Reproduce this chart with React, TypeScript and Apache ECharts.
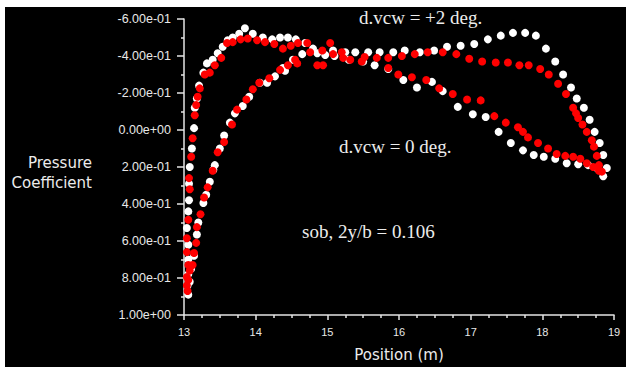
import { useEffect, useRef } from 'react';
import * as echarts from 'echarts';

// Pressure coefficient distribution, section 2y/b = 0.106
const X_MIN = 13;
const X_MAX = 19;
const X_STEP = 1;
const Y_MIN = -0.6;
const Y_MAX = 1.0;
const Y_STEP = 0.2;

const yTickLabels = [
  '-6.00e-01', '-4.00e-01', '-2.00e-01', '0.00e+00', '2.00e-01',
  '4.00e-01', '6.00e-01', '8.00e-01', '1.00e+00',
];
const xTickLabels = ['13', '14', '15', '16', '17', '18', '19'];

// d.vcw = +2 deg. (white)
const whiteUpper: [number, number][] = [
  [13.06, 0.89], [13.05, 0.84], [13.06, 0.78], [13.06, 0.7], [13.06, 0.62], [13.04, 0.53],
  [13.06, 0.44], [13.07, 0.38], [13.07, 0.29], [13.08, 0.2], [13.11, 0.1], [13.14, -0.01],
  [13.15, -0.12], [13.18, -0.17], [13.21, -0.24], [13.27, -0.31], [13.32, -0.36], [13.4, -0.38],
  [13.47, -0.415], [13.54, -0.45], [13.61, -0.485], [13.68, -0.5], [13.77, -0.52], [13.85, -0.55],
  [13.96, -0.52], [14.1, -0.5], [14.23, -0.49], [14.34, -0.5], [14.45, -0.5], [14.56, -0.49],
  [14.69, -0.47], [14.8, -0.44], [14.86, -0.415], [14.97, -0.405], [15.08, -0.43], [15.25, -0.42],
  [15.39, -0.42], [15.57, -0.42], [15.73, -0.42], [15.92, -0.42], [16.08, -0.43], [16.29, -0.42],
  [16.49, -0.43], [16.67, -0.45], [16.86, -0.455], [17.05, -0.465], [17.24, -0.49], [17.42, -0.51],
  [17.59, -0.525], [17.76, -0.525], [17.91, -0.51], [18.05, -0.44], [18.18, -0.37], [18.29, -0.3],
  [18.4, -0.23], [18.48, -0.17], [18.58, -0.12], [18.66, -0.055], [18.73, 0.01], [18.8, 0.07],
  [18.85, 0.135], [18.9, 0.205], [18.85, 0.25],
];
const whiteLower: [number, number][] = [
  [13.08, 0.82], [13.1, 0.75], [13.14, 0.68], [13.18, 0.565], [13.2, 0.5], [13.27, 0.395],
  [13.31, 0.35], [13.36, 0.28], [13.41, 0.215], [13.43, 0.19], [13.5, 0.1], [13.56, 0.03],
  [13.64, -0.04], [13.71, -0.09], [13.82, -0.13], [13.91, -0.18], [14.06, -0.255], [14.16, -0.255],
  [14.27, -0.29], [14.38, -0.335], [14.41, -0.32], [14.52, -0.38], [14.65, -0.41], [15.1, -0.4],
  [15.3, -0.38], [15.5, -0.37], [15.66, -0.35], [15.85, -0.33], [16.06, -0.27], [16.25, -0.23],
  [16.46, -0.26], [16.61, -0.21], [16.82, -0.125], [17.03, -0.085], [17.21, -0.07], [17.39, 0.01],
  [17.56, 0.07], [17.73, 0.11], [17.88, 0.135], [18.02, 0.145], [18.18, 0.155], [18.34, 0.18],
  [18.5, 0.185], [18.64, 0.19], [18.76, 0.205],
];

// d.vcw = 0 deg. (red)
const redUpper: [number, number][] = [
  [13.04, 0.84], [13.04, 0.795], [13.06, 0.73], [13.04, 0.66], [13.04, 0.585], [13.06, 0.485],
  [13.08, 0.32], [13.07, 0.26], [13.1, 0.145], [13.12, 0.045], [13.15, -0.08], [13.17, -0.135],
  [13.19, -0.18], [13.22, -0.225], [13.29, -0.3], [13.36, -0.31], [13.43, -0.35], [13.52, -0.39],
  [13.6, -0.47], [13.68, -0.475], [13.79, -0.49], [13.89, -0.495], [14.02, -0.485], [14.13, -0.475],
  [14.26, -0.465], [14.38, -0.44], [14.49, -0.455], [14.59, -0.47], [14.72, -0.47], [14.76, -0.42],
  [14.93, -0.43], [15.04, -0.47], [15.08, -0.41], [15.2, -0.42], [15.32, -0.38], [15.52, -0.395],
  [15.69, -0.39], [15.85, -0.39], [16.04, -0.4], [16.22, -0.41], [16.4, -0.42], [16.61, -0.42],
  [16.8, -0.41], [16.98, -0.385], [17.16, -0.37], [17.35, -0.365], [17.52, -0.365], [17.68, -0.35],
  [17.81, -0.35], [17.97, -0.33], [18.09, -0.3], [18.22, -0.25], [18.33, -0.195], [18.43, -0.12],
  [18.47, -0.09], [18.5, -0.065], [18.56, -0.03], [18.62, 0.01], [18.69, 0.055], [18.72, 0.09],
  [18.76, 0.14], [18.79, 0.19], [18.83, 0.225],
];
const redLower: [number, number][] = [
  [13.05, 0.87], [13.06, 0.81], [13.08, 0.76], [13.12, 0.73], [13.14, 0.665], [13.17, 0.61],
  [13.18, 0.525], [13.23, 0.455], [13.28, 0.365], [13.33, 0.31], [13.4, 0.22], [13.47, 0.12],
  [13.56, 0.065], [13.67, -0.03], [13.74, -0.11], [13.87, -0.165], [13.96, -0.22], [14.05, -0.255],
  [14.19, -0.28], [14.34, -0.325], [14.45, -0.35], [14.55, -0.38], [14.58, -0.36], [14.86, -0.35],
  [14.94, -0.35], [15.22, -0.39], [15.48, -0.37], [15.85, -0.335], [15.99, -0.3], [16.18, -0.285],
  [16.38, -0.27], [16.56, -0.225], [16.75, -0.195], [16.95, -0.165], [17.14, -0.16], [17.33, -0.075],
  [17.49, -0.04], [17.66, -0.015], [17.73, 0.01], [17.8, 0.04], [17.94, 0.07], [18.08, 0.1],
  [18.2, 0.13], [18.32, 0.14], [18.43, 0.145], [18.53, 0.155], [18.62, 0.18], [18.71, 0.2],
  [18.79, 0.22],
];

const AXIS_COLOR = '#e4e4e4';
const LABEL_FONT = 'Liberation Sans';
const NOTE_FONT = 'Liberation Serif';

export default function App() {
  const ref = useRef<HTMLDivElement>(null);

  useEffect(() => {
    if (!ref.current) return;
    const chart = echarts.init(ref.current, null, { renderer: 'svg' });

    const note = (text: string, x: number, y: number) => ({
      type: 'text',
      x,
      y,
      style: {
        text,
        fill: '#ececec',
        fontFamily: NOTE_FONT,
        fontSize: 19,
        align: 'left',
        verticalAlign: 'middle',
      },
    });

    chart.setOption({
      animation: false,
      backgroundColor: '#000000',
      grid: { left: 179, right: 12, top: 12, bottom: 52, containLabel: false },
      xAxis: {
        type: 'value',
        min: X_MIN,
        max: X_MAX,
        interval: X_STEP,
        name: 'Position (m)',
        nameLocation: 'middle',
        nameGap: 32,
        nameTextStyle: { color: '#ececec', fontFamily: 'DejaVu Sans', fontSize: 15 },
        axisLine: { show: true, onZero: false, lineStyle: { color: AXIS_COLOR, width: 1.5 } },
        axisTick: { show: true, inside: false, length: 5, lineStyle: { color: AXIS_COLOR, width: 1.5 } },
        minorTick: { show: true, splitNumber: 4, length: 3, lineStyle: { color: AXIS_COLOR, width: 1.5 } },
        splitLine: { show: false },
        axisLabel: {
          color: '#e8e8e8',
          fontFamily: LABEL_FONT,
          fontSize: 11,
          margin: 11,
          formatter: (v: number) => xTickLabels[Math.round((v - X_MIN) / X_STEP)] ?? '',
        },
      },
      yAxis: {
        type: 'value',
        inverse: true,
        min: Y_MIN,
        max: Y_MAX,
        interval: Y_STEP,
        axisLine: { show: true, onZero: false, lineStyle: { color: AXIS_COLOR, width: 1.5 } },
        axisTick: { show: true, inside: false, length: 7, lineStyle: { color: AXIS_COLOR, width: 1.5 } },
        minorTick: { show: true, splitNumber: 2, length: 3, lineStyle: { color: AXIS_COLOR, width: 1.5 } },
        splitLine: { show: false },
        axisLabel: {
          color: '#e8e8e8',
          fontFamily: LABEL_FONT,
          fontSize: 12.5,
          margin: 13,
          formatter: (v: number) => yTickLabels[Math.round((v - Y_MIN) / Y_STEP)] ?? '',
        },
      },
      graphic: [
        {
          type: 'text',
          x: 87,
          y: 166,
          style: {
            text: 'Pressure\nCoefficient',
            fill: '#ececec',
            fontFamily: 'DejaVu Sans',
            fontSize: 15,
            lineHeight: 20,
            align: 'right',
            verticalAlign: 'middle',
          },
        },
        note('d.vcw = +2 deg.', 354, 10),
        note('d.vcw = 0 deg.', 334, 139),
        note('sob, 2y/b = 0.106', 297, 224),
      ],
      series: [
        {
          name: 'd.vcw = +2 deg.',
          type: 'scatter',
          symbol: 'circle',
          symbolSize: 8,
          itemStyle: { color: '#ffffff', opacity: 1 },
          data: [...whiteUpper, ...whiteLower],
        },
        {
          name: 'd.vcw = 0 deg.',
          type: 'scatter',
          symbol: 'circle',
          symbolSize: 8,
          itemStyle: { color: '#ff0000', opacity: 1 },
          data: [...redUpper, ...redLower],
        },
      ],
    });

    return () => chart.dispose();
  }, []);

  return (
    <div
      style={{
        position: 'fixed',
        left: 0,
        top: 0,
        width: 626,
        height: 369,
        background: '#ffffff',
      }}
    >
      <div
        ref={ref}
        style={{ position: 'absolute', left: 5, top: 7, width: 621, height: 360 }}
      />
    </div>
  );
}
